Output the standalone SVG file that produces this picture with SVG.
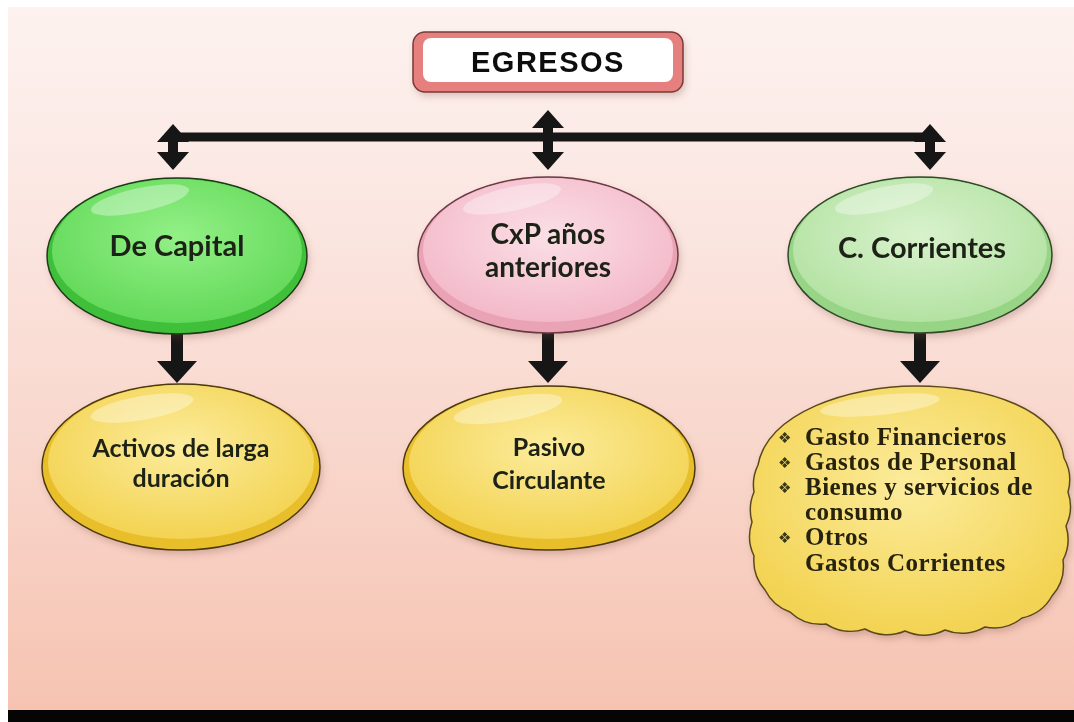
<svg xmlns="http://www.w3.org/2000/svg" width="1074" height="722" viewBox="0 0 1074 722">
<style>
.t{font-family:Lato,"Open Sans","Liberation Sans",sans-serif;font-weight:bold;text-anchor:middle;fill:#1e2218}
.tb{font-size:29px}
.tm{font-size:28px}
.ts{font-size:25px}
.c{font-family:"Liberation Serif","DejaVu Serif",serif;font-weight:bold;font-size:25px;letter-spacing:0.5px;fill:#26240c}
.bul{font-family:"DejaVu Sans",sans-serif;font-size:15px;fill:#3a3812}
.hl{fill:#ffffff;opacity:0.35}
.conn{stroke:#161616;fill:none}
</style>
<defs>
<linearGradient id="bg" x1="0" y1="0" x2="0" y2="1">
<stop offset="0" stop-color="#fdf2ef"/>
<stop offset="0.3" stop-color="#fbe6e1"/>
<stop offset="0.7" stop-color="#f8d3c7"/>
<stop offset="1" stop-color="#f6c3b1"/>
</linearGradient>
<radialGradient id="gGreen" cx="0.5" cy="0.4" r="0.6">
<stop offset="0" stop-color="#93f086"/><stop offset="1" stop-color="#63d95a"/>
</radialGradient>
<radialGradient id="gPink" cx="0.5" cy="0.4" r="0.6">
<stop offset="0" stop-color="#fbdfe6"/><stop offset="1" stop-color="#f3b9c9"/>
</radialGradient>
<radialGradient id="gLight" cx="0.5" cy="0.4" r="0.6">
<stop offset="0" stop-color="#d9f2cd"/><stop offset="1" stop-color="#b3e2a2"/>
</radialGradient>
<radialGradient id="gYellow" cx="0.5" cy="0.4" r="0.6">
<stop offset="0" stop-color="#fcec9c"/><stop offset="1" stop-color="#f3d352"/>
</radialGradient>
<filter id="sh" x="-10%" y="-10%" width="120%" height="130%">
<feDropShadow dx="2" dy="4" stdDeviation="3" flood-color="#7a4a3a" flood-opacity="0.25"/>
</filter>
<marker id="hBig" viewBox="0 0 22 40" refX="12" refY="20" markerWidth="22" markerHeight="40" markerUnits="userSpaceOnUse" orient="auto">
<path d="M0,0 L22,20 L0,40 Z" fill="#161616"/>
</marker>
<marker id="hSm" viewBox="0 0 18 32" refX="9" refY="16" markerWidth="18" markerHeight="32" markerUnits="userSpaceOnUse" orient="auto-start-reverse">
<path d="M0,0 L18,16 L0,32 Z" fill="#161616"/>
</marker>
</defs>
<rect x="0" y="0" width="1074" height="722" fill="#ffffff"/>
<rect x="8" y="7" width="1066" height="703" fill="url(#bg)"/>
<rect x="8" y="710" width="1066" height="12" fill="#050505"/>

<g id="connectors">
<line class="conn" x1="173" y1="137" x2="930" y2="137" stroke-width="9"/>
<line class="conn" x1="173" y1="133" x2="173" y2="161" stroke-width="10" marker-start="url(#hSm)" marker-end="url(#hSm)"/>
<line class="conn" x1="548" y1="119" x2="548" y2="161" stroke-width="10" marker-start="url(#hSm)" marker-end="url(#hSm)"/>
<line class="conn" x1="930" y1="133" x2="930" y2="161" stroke-width="10" marker-start="url(#hSm)" marker-end="url(#hSm)"/>
<line class="conn" x1="177" y1="334" x2="177" y2="373" stroke-width="12" marker-end="url(#hBig)"/>
<line class="conn" x1="548" y1="333" x2="548" y2="373" stroke-width="12" marker-end="url(#hBig)"/>
<line class="conn" x1="920" y1="333" x2="920" y2="373" stroke-width="12" marker-end="url(#hBig)"/>
</g>

<g id="n-egresos" filter="url(#sh)">
<rect x="413" y="32" width="270" height="60" rx="12" fill="#e6807e" stroke="#7a3a36" stroke-width="1.5"/>
<rect x="423" y="38" width="250" height="44" rx="8" fill="#ffffff"/>
<text x="548" y="72" style="font-family:'Liberation Sans',Arial,sans-serif;font-weight:bold;font-size:29px;letter-spacing:1.5px;text-anchor:middle;fill:#111">EGRESOS</text>
</g>

<g id="n-capital" filter="url(#sh)">
<ellipse cx="177" cy="256" rx="130" ry="78" fill="#3fbf3a" stroke="#1a3a18" stroke-width="1.5"/>
<ellipse cx="177" cy="251" rx="125" ry="72" fill="url(#gGreen)"/>
<ellipse class="hl" cx="140" cy="200" rx="50" ry="12" transform="rotate(-12 140 200)"/>
<text class="t tb" x="177" y="256">De Capital</text>
</g>

<g id="n-cxp" filter="url(#sh)">
<ellipse cx="548" cy="255" rx="130" ry="78" fill="#eaa3b5" stroke="#6a3a45" stroke-width="1.5"/>
<ellipse cx="548" cy="250" rx="125" ry="72" fill="url(#gPink)"/>
<ellipse class="hl" cx="512" cy="199" rx="50" ry="12" transform="rotate(-12 512 199)"/>
<text class="t tm" x="548" y="244">CxP años</text>
<text class="t tm" x="548" y="277">anteriores</text>
</g>

<g id="n-corrientes" filter="url(#sh)">
<ellipse cx="920" cy="255" rx="132" ry="78" fill="#98d486" stroke="#2e4a2a" stroke-width="1.5"/>
<ellipse cx="920" cy="250" rx="127" ry="72" fill="url(#gLight)"/>
<ellipse class="hl" cx="884" cy="199" rx="50" ry="12" transform="rotate(-12 884 199)"/>
<text class="t tb" x="922" y="258">C. Corrientes</text>
</g>

<g id="n-activos" filter="url(#sh)">
<ellipse cx="181" cy="467" rx="139" ry="83" fill="#e8be2c" stroke="#4a3a10" stroke-width="1.5"/>
<ellipse cx="181" cy="462" rx="133" ry="77" fill="url(#gYellow)"/>
<ellipse class="hl" cx="142" cy="408" rx="52" ry="12" transform="rotate(-10 142 408)"/>
<text class="t ts" x="181" y="457">Activos de larga</text>
<text class="t ts" x="181" y="487">duración</text>
</g>

<g id="n-pasivo" filter="url(#sh)">
<ellipse cx="549" cy="468" rx="146" ry="82" fill="#e8be2c" stroke="#4a3a10" stroke-width="1.5"/>
<ellipse cx="549" cy="463" rx="140" ry="76" fill="url(#gYellow)"/>
<ellipse class="hl" cx="508" cy="409" rx="55" ry="12" transform="rotate(-10 508 409)"/>
<text class="t ts" x="549" y="456">Pasivo</text>
<text class="t ts" x="549" y="489">Circulante</text>
</g>

<g id="n-lista" filter="url(#sh)">
<path d="M758,465 C768,412 850,386 915,386 C990,386 1058,410 1064,458 A45 45 0 0 1 1068,492 A45 45 0 0 1 1066,526 A45 45 0 0 1 1063,560 A45 45 0 0 1 1052,596 A45 45 0 0 1 1022,618 A45 45 0 0 1 985,627 A45 45 0 0 1 945,630 A45 45 0 0 1 905,631 A45 45 0 0 1 865,629 A45 45 0 0 1 826,624 A45 45 0 0 1 790,612 A45 45 0 0 1 765,590 A45 45 0 0 1 754,556 A45 45 0 0 1 752,522 A45 45 0 0 1 754,492 A45 45 0 0 1 758,465 Z" fill="url(#gYellow)" stroke="#5a4a1a" stroke-width="1.5"/>
<ellipse class="hl" cx="880" cy="405" rx="60" ry="10" transform="rotate(-6 880 405)"/>
<text class="bul" x="778" y="443">❖</text>
<text class="c" x="805" y="445">Gasto Financieros</text>
<text class="bul" x="778" y="468">❖</text>
<text class="c" x="805" y="470">Gastos de Personal</text>
<text class="bul" x="778" y="493">❖</text>
<text class="c" x="805" y="495">Bienes y servicios de</text>
<text class="c" x="805" y="520">consumo</text>
<text class="bul" x="778" y="543">❖</text>
<text class="c" x="805" y="545">Otros</text>
<text class="c" x="805" y="571">Gastos Corrientes</text>
</g>
</svg>
